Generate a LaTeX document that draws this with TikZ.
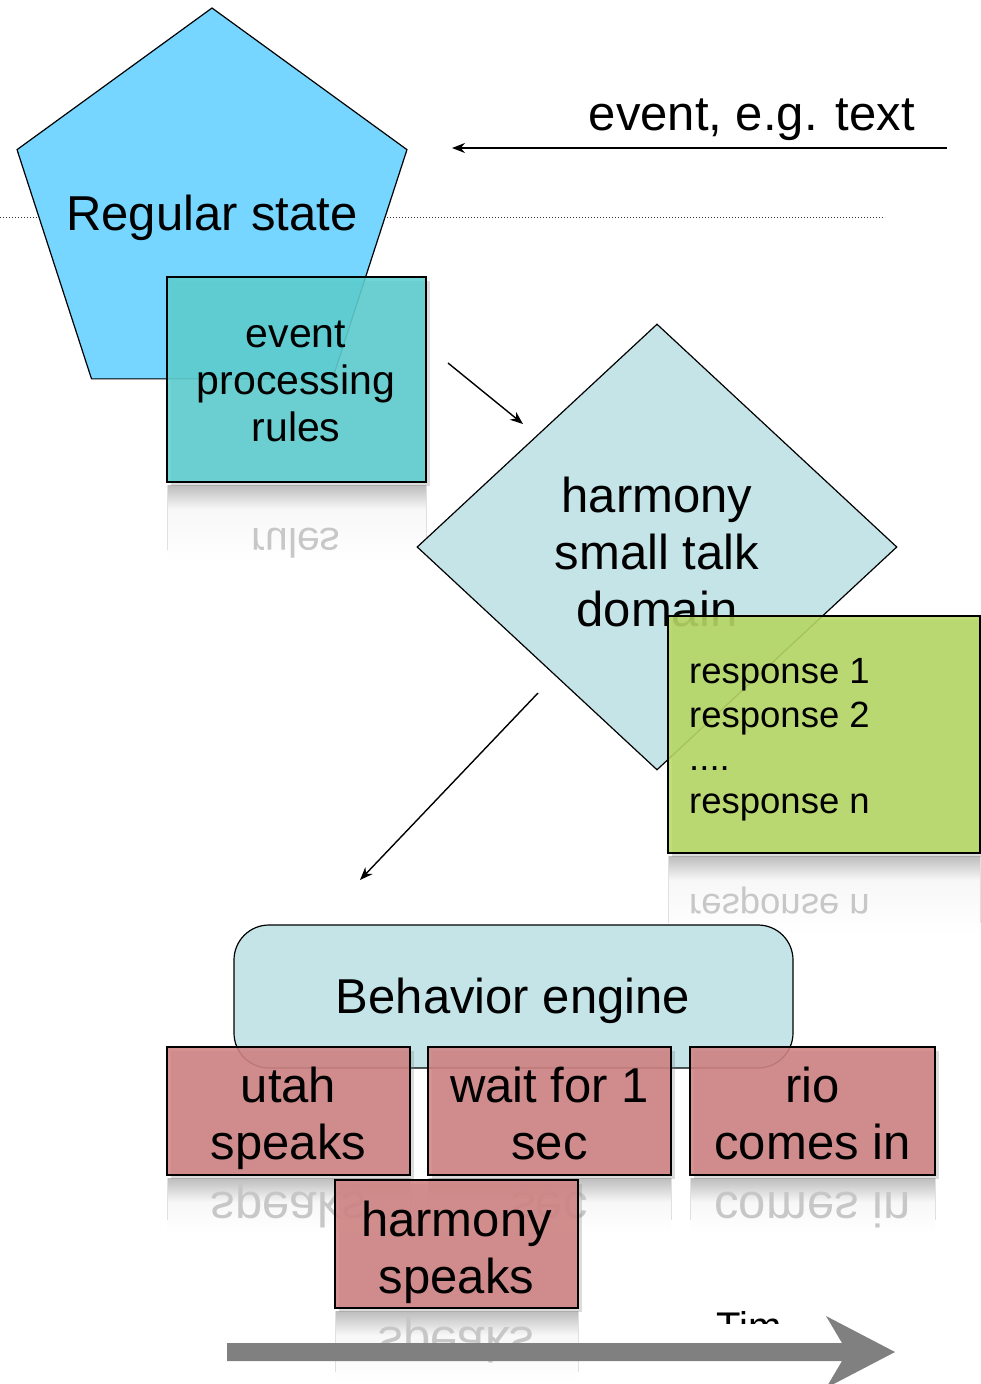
\documentclass[tikz,border=0pt]{standalone}
\usepackage{fontspec}
\setmainfont{Liberation Sans}
\usepackage{graphicx}
\usetikzlibrary{shapes.geometric,arrows.meta,shadows}

\definecolor{pentblue}{RGB}{118,214,255}
\definecolor{paleblue}{RGB}{197,228,232}
\definecolor{tealbox}{RGB}{92,207,209}
\definecolor{limebox}{RGB}{183,216,100}
\definecolor{rosebox}{RGB}{208,130,130}
\definecolor{arrowgray}{RGB}{128,128,128}

\newcommand\mkreflection[4]{%
  \shade[top color=black!26, bottom color=black!3] (#1,#3) rectangle (#2,#3+24);
  \shade[top color=black!3, bottom color=white] (#1,#3+24) rectangle (#2,#4);
  \draw[black!12, line width=1pt] (#1,#3) -- (#1,#4-12) (#2,#3) -- (#2,#4-12);}

\begin{document}
\begin{tikzpicture}[x=1pt,y=-1pt,
  bigfont/.style={font=\fontsize{49}{57}\selectfont},
  midfont/.style={font=\fontsize{41}{47}\selectfont},
  smallfont/.style={font=\fontsize{36.5}{43.3}\selectfont},
  timefont/.style={font=\fontsize{40}{48}\selectfont},
  outline/.style={draw=black, line width=1.2pt},
  card/.style={draw=black, line width=1.4pt, rectangle, inner sep=0pt,
    fill opacity=0.88,
    drop shadow={shadow xshift=4pt, shadow yshift=-4pt, opacity=0.28}},
  link/.style={-{Stealth[length=13pt,width=10pt]}, line width=1.4pt},
  mirrortext/.style={text=black!22},
]
\useasboundingbox (0,0) rectangle (980,1384);

% dotted separator
\coordinate (dotL) at (0,217);
\coordinate (dotR) at (885,217);
\draw[dotted, line width=1pt, black!80] (dotL) -- (dotR);

% pentagon
\node[outline, regular polygon, regular polygon sides=5, minimum size=410pt,
      inner sep=0pt, fill=pentblue] (pent) at (212,213) {};
\node[bigfont] (penttext) at (212,218) {Regular state};

% incoming event
\coordinate (evsrc) at (947,148);
\coordinate (evdst) at (452,148);
\draw[link] (evsrc) -- (evdst);
\node[bigfont, anchor=base east, inner sep=0pt] (evtext) at (915,130) {event, e.g. text};

% reflection of the rules box (behind the diamond)
\mkreflection{167}{426}{485}{562}
\node[midfont, mirrortext, anchor=base] (rulesm) at (296,528) {\scalebox{1}[-1]{rules}};

% diamond
\node[outline, diamond, fill=paleblue, minimum width=480pt, minimum height=446pt,
      inner sep=0pt] (dom) at (657,547) {};
\node[bigfont, align=center] (domtext) at (657,558) {\strut harmony\\\strut small talk\\\strut domain};

% arrows
\coordinate (r2s) at (448,363);
\coordinate (r2e) at (523,424);
\draw[link] (r2s) -- (r2e);
\coordinate (d2s) at (538,693);
\coordinate (d2e) at (360,880);
\draw[link] (d2s) -- (d2e);

% event processing rules
\node[card, fill=tealbox, minimum width=259pt, minimum height=205pt] (rules) at (296.5,379.5) {};
\node[midfont, align=center] (rulestext) at (296,381) {event\\processing\\rules};

% responses
\mkreflection{668}{980}{856}{935}
\node[smallfont, mirrortext, anchor=base west, inner sep=0pt] (respm) at (689,894) {\scalebox{1}[-1]{response n}};
\node[card, fill=limebox, minimum width=312pt, minimum height=237pt] (resp) at (824,734.5) {};
\node[smallfont, align=left, anchor=west, inner sep=0pt] (resptext) at (689,740) {response 1\\response 2\\....\\response n};

% behavior engine
\node[outline, fill=paleblue, rounded corners=35pt, minimum width=559pt,
      minimum height=143pt, inner sep=0pt] (engine) at (513.5,996.5) {};
\node[bigfont] (enginetext) at (513,1001) {Behavior engine};

% behaviour steps: reflections
\mkreflection{167}{410}{1178}{1232}
\mkreflection{428}{671}{1178}{1232}
\mkreflection{690}{935}{1178}{1232}
\node[bigfont, mirrortext, anchor=base] (utahm) at (288.5,1192) {\scalebox{1}[-1]{speaks}};
\node[bigfont, mirrortext, anchor=base] (waitm) at (549.5,1192) {\scalebox{1}[-1]{sec}};
\node[bigfont, mirrortext, anchor=base] (riom) at (812.5,1192) {\scalebox{1}[-1]{comes in}};

% behaviour steps
\node[card, fill=rosebox, minimum width=243pt, minimum height=128pt] (utah) at (288.5,1111) {};
\node[bigfont, align=center] (utahtext) at (288.5,1120) {\strut utah\\\strut speaks};
\node[card, fill=rosebox, minimum width=243pt, minimum height=128pt] (wait) at (549.5,1111) {};
\node[bigfont, align=center] (waittext) at (549.5,1120) {\strut wait for 1\\\strut sec};
\node[card, fill=rosebox, minimum width=245pt, minimum height=128pt] (rio) at (812.5,1111) {};
\node[bigfont, align=center] (riotext) at (812.5,1120) {\strut rio\\\strut comes in};

\mkreflection{335}{578}{1311}{1384}
\node[bigfont, mirrortext, anchor=base] (harmm) at (456.5,1327) {\scalebox{1}[-1]{speaks}};
\node[card, fill=rosebox, minimum width=243pt, minimum height=128pt] (harm) at (456.5,1244) {};
\node[bigfont, align=center] (harmtext) at (456.5,1254) {\strut harmony\\\strut speaks};

% time axis
\begin{scope}
  \clip (700,1295) rectangle (820,1323);
  \node[timefont, anchor=base west, inner sep=0pt] (timelabel) at (716,1340) {Tim};
\end{scope}
\fill[arrowgray] (227,1343) -- (842,1343) -- (826,1316) -- (895,1352)
  -- (826,1388) -- (842,1361) -- (227,1361) -- cycle;
\end{tikzpicture}
\end{document}
